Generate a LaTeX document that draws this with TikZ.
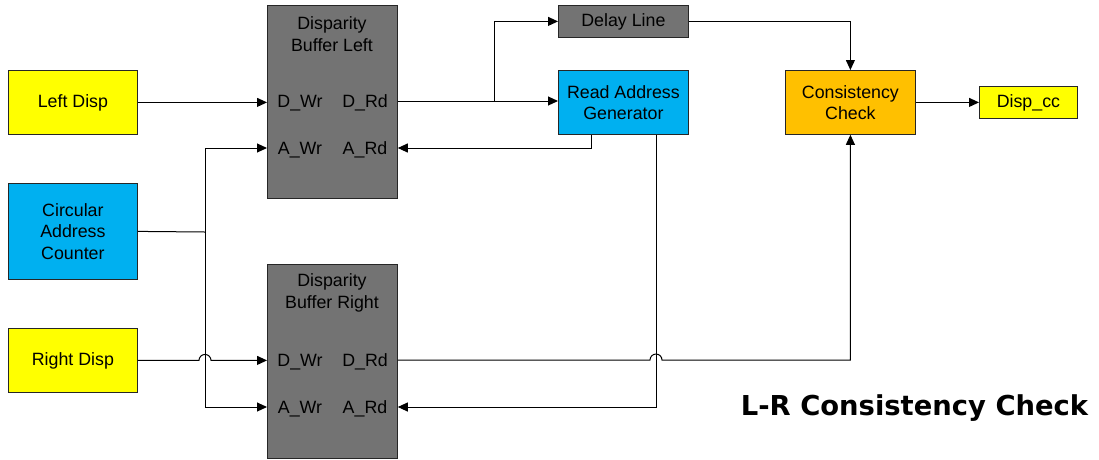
\documentclass[tikz,border=0pt]{standalone}
\usepackage{fontspec}
\setmainfont{Liberation Sans}
\newfontfamily\titlefont{DejaVu Sans}
\usetikzlibrary{arrows.meta,calc}
\definecolor{boxyellow}{HTML}{FFFF00}
\definecolor{boxblue}{HTML}{00B0F0}
\definecolor{boxorange}{HTML}{FFC000}
\definecolor{boxgray}{HTML}{737373}
\definecolor{edge}{HTML}{262626}
\begin{document}
\begin{tikzpicture}[x=1pt,y=-1pt,
  every node/.style={font=\fontsize{17.8}{21.5}\selectfont},
  blk/.style={draw=edge,line width=0.8pt,inner sep=0pt,anchor=north west,align=center},
  port/.style={inner sep=0pt,text height=12.5pt,text depth=0pt},
  wire/.style={line width=1pt,draw=black},
  arr/.style={wire,-{Triangle[length=10pt,width=9pt]}}]
\useasboundingbox (0,0) rectangle (1099,459);
% input blocks
\node[blk,fill=boxyellow,minimum width=129pt,minimum height=64pt] (ld) at (8,70) {Left Disp};
\node[blk,fill=boxblue,minimum width=129pt,minimum height=96pt] (cac) at (8,183) {Circular\\Address\\Counter};
\node[blk,fill=boxyellow,minimum width=129pt,minimum height=64pt] (rd) at (8,328) {Right Disp};
% disparity buffers
\node[blk,fill=boxgray,minimum width=130pt,minimum height=193pt] (bl) at (267,5) {};
\node[inner sep=0pt,align=center] (blt) at (332,34) {Disparity\\Buffer Left};
\node[port] (bldw) at (300,101) {D\_Wr};
\node[port] (bldr) at (365,101) {D\_Rd};
\node[port] (blaw) at (300,148) {A\_Wr};
\node[port] (blar) at (365,148) {A\_Rd};
\node[blk,fill=boxgray,minimum width=130pt,minimum height=194pt] (br) at (267,264) {};
\node[inner sep=0pt,align=center] (brt) at (332,293) {Disparity\\Buffer Right};
\node[port] (brdw) at (300,360) {D\_Wr};
\node[port] (brdr) at (365,360) {D\_Rd};
\node[port] (braw) at (300,407) {A\_Wr};
\node[port] (brar) at (365,407) {A\_Rd};
% processing blocks
\node[blk,fill=boxgray,minimum width=130pt,minimum height=32pt] (dl) at (558,5) {Delay Line};
\node[blk,fill=boxblue,minimum width=130pt,minimum height=64pt] (rag) at (558,70) {Read Address\\Generator};
\node[blk,fill=boxorange,minimum width=130pt,minimum height=64pt] (cc) at (785,70) {Consistency\\Check};
\node[blk,fill=boxyellow,minimum width=98pt,minimum height=32pt] (out) at (979,86) {Disp\_cc};
% title
\node[inner sep=0pt,font=\fontsize{27.4}{30}\titlefont\bfseries\selectfont] (title) at (914.5,408) {L-R Consistency Check};
% junction points
\coordinate (cj) at (205,232);
\coordinate (dj) at (494,101);
% left buffer inputs
\draw[arr] (ld.east) -- (ld.east -| bl.west);
\draw[wire] (cac.east) -- (cj);
\draw[arr] (cj) |- (bl.west |- 0,148);
\draw[arr] (cj) |- (br.west |- 0,407);
% right disp with hop over the counter line
\draw[arr] (rd.east) -- ($(cj |- rd.east)+(-6,0)$) arc[start angle=180,end angle=0,radius=6pt] -- (br.west |- rd.east);
% left buffer data out
\draw[arr] (bl.east |- 0,101) -- (rag.west |- 0,101);
\draw[arr] (dj) |- (dl.west);
\draw[arr] (dl.east) -| (cc.north);
% read addresses back to buffers
\draw[arr] (rag.south -| 591,0) |- (bl.east |- 0,148);
\draw[arr] (rag.south -| 656,0) |- (br.east |- 0,407);
% right buffer data out with hop over the address line
\draw[arr] (br.east |- 0,360) -- (650,360) arc[start angle=180,end angle=0,radius=6pt] -- (cc.south |- 0,360) -- (cc.south);
\draw[arr] (cc.east |- out.west) -- (out.west);
\end{tikzpicture}
\end{document}
